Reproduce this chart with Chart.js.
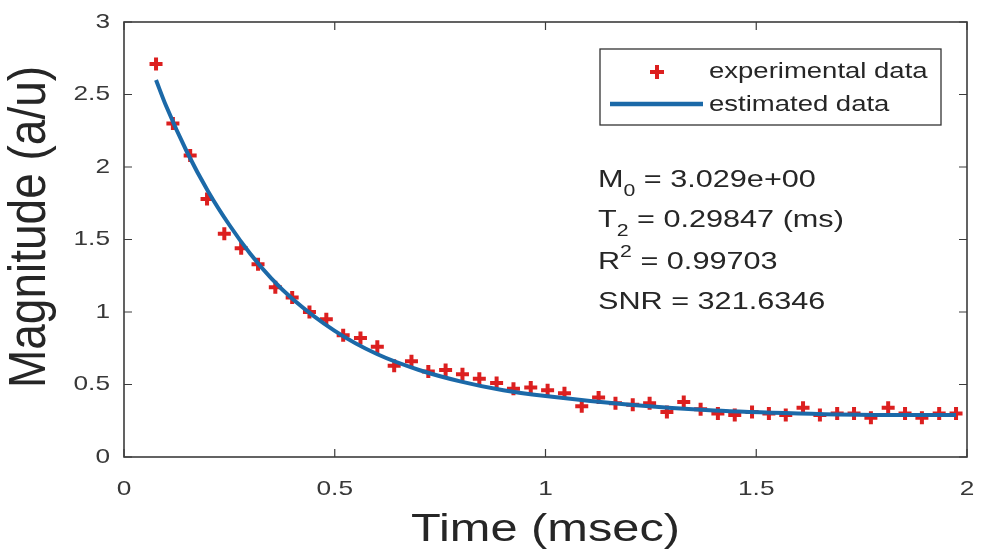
<!DOCTYPE html>
<html>
<head>
<meta charset="utf-8">
<script src="https://cdn.jsdelivr.net/npm/chart.js@4.4.1/dist/chart.umd.min.js"></script>
<style>
  html, body { margin: 0; padding: 0; background: #fff; }
  #wrap { width: 982px; height: 556px; }
</style>
</head>
<body>
<div id="wrap"><canvas id="myChart" width="982" height="556"></canvas></div>
<script>
// experimental samples (ms, a/u)
const expTime = [0.076, 0.116, 0.157, 0.197, 0.238, 0.278, 0.318, 0.359, 0.399, 0.440,
    0.480, 0.520, 0.561, 0.601, 0.641, 0.682, 0.722, 0.763, 0.803, 0.843,
    0.884, 0.924, 0.965, 1.005, 1.045, 1.086, 1.126, 1.166, 1.207, 1.247,
    1.288, 1.328, 1.368, 1.409, 1.449, 1.490, 1.530, 1.570, 1.611, 1.651,
    1.692, 1.732, 1.772, 1.813, 1.853, 1.893, 1.934, 1.974];
const expMag = [2.71, 2.30, 2.08, 1.78, 1.54, 1.44, 1.33, 1.17, 1.10, 1.00,
    0.95, 0.84, 0.82, 0.76, 0.63, 0.66, 0.59, 0.60, 0.57, 0.54,
    0.51, 0.47, 0.48, 0.46, 0.44, 0.35, 0.41, 0.37, 0.36, 0.37,
    0.31, 0.38, 0.33, 0.30, 0.29, 0.31, 0.30, 0.29, 0.34, 0.29,
    0.30, 0.30, 0.27, 0.34, 0.30, 0.27, 0.30, 0.30];

// fitted curve
const fitTime = [0.076, 0.1, 0.15, 0.2, 0.25, 0.3, 0.35, 0.4, 0.5, 0.6,
    0.7, 0.8, 0.9, 1.0, 1.2, 1.4, 1.6, 1.8, 1.974];
const fitMag = [2.60, 2.42, 2.10, 1.83, 1.60, 1.40, 1.23, 1.09, 0.87, 0.71,
    0.60, 0.52, 0.46, 0.42, 0.36, 0.32, 0.30, 0.29, 0.29];

const xTicks = [0, 0.5, 1, 1.5, 2];
const yTicks = [0, 0.5, 1, 1.5, 2, 2.5, 3];

const xTitle = 'Time (msec)';
const yTitle = 'Magnitude (a/u)';
const legendLabels = ['experimental data', 'estimated data'];

const redColor = '#dc1f1f';
const blueColor = '#1b69a8';
const axisColor = '#3c3c3c';
const fontName = '"Liberation Sans", Arial, Helvetica, sans-serif';
const sx = 1.25; // the source picture is stretched sideways

// draw text stretched sideways, returns its drawn width
function stretchText(c, text, x, y, size, align) {
    c.save();
    c.font = size + 'px ' + fontName;
    c.textAlign = align || 'left';
    c.textBaseline = 'middle';
    c.translate(x, y);
    c.scale(sx, 1);
    c.fillText(text, 0, 0);
    const w = c.measureText(text).width * sx;
    c.restore();
    return w;
}

// MATLAB style box, inward ticks, labels, legend and fit text
const boxPlugin = {
    id: 'boxPlugin',
    afterDraw(chart) {
        const { ctx, chartArea: a, scales } = chart;
        ctx.save();
        ctx.strokeStyle = axisColor;
        ctx.lineWidth = 1.6;
        ctx.strokeRect(a.left, a.top, a.right - a.left, a.bottom - a.top);
        ctx.lineWidth = 1.2;
        ctx.beginPath();
        for (const v of xTicks) {
            const px = scales.x.getPixelForValue(v);
            ctx.moveTo(px, a.bottom); ctx.lineTo(px, a.bottom - 8);
            ctx.moveTo(px, a.top); ctx.lineTo(px, a.top + 8);
        }
        for (const v of yTicks) {
            const py = scales.y.getPixelForValue(v);
            ctx.moveTo(a.left, py); ctx.lineTo(a.left + 8, py);
            ctx.moveTo(a.right, py); ctx.lineTo(a.right - 8, py);
        }
        ctx.stroke();

        // tick labels
        ctx.fillStyle = '#383838';
        for (const v of xTicks) {
            stretchText(ctx, String(v), scales.x.getPixelForValue(v), a.bottom + 32, 21, 'center');
        }
        for (const v of yTicks) {
            stretchText(ctx, String(v), a.left - 14, scales.y.getPixelForValue(v), 21, 'right');
        }

        // axis titles
        ctx.fillStyle = '#262626';
        stretchText(ctx, xTitle, (a.left + a.right) / 2, 530, 39, 'center');
        ctx.save();
        ctx.translate(31, 227);
        ctx.rotate(-Math.PI / 2);
        ctx.scale(1, 1.12);
        ctx.font = '46px ' + fontName;
        ctx.textAlign = 'center';
        ctx.textBaseline = 'middle';
        ctx.fillText(yTitle, 0, 0);
        ctx.restore();

        // legend
        ctx.fillStyle = '#fff';
        ctx.fillRect(600, 49, 341, 76);
        ctx.strokeStyle = '#333';
        ctx.lineWidth = 1.3;
        ctx.strokeRect(600, 49, 341, 76);
        ctx.fillStyle = '#262626';
        stretchText(ctx, legendLabels[0], 709, 72, 22);
        stretchText(ctx, legendLabels[1], 709, 105, 22);
        ctx.strokeStyle = redColor;
        ctx.lineWidth = 4;
        ctx.beginPath();
        ctx.moveTo(650, 72); ctx.lineTo(664, 72);
        ctx.moveTo(657, 65); ctx.lineTo(657, 79);
        ctx.stroke();
        ctx.strokeStyle = blueColor;
        ctx.lineWidth = 4.5;
        ctx.beginPath();
        ctx.moveTo(610, 104); ctx.lineTo(703, 104);
        ctx.stroke();

        // fit results
        ctx.fillStyle = '#262626';
        const line = (x, y, parts) => {
            let cx = x;
            for (const p of parts) {
                const size = p.sub || p.sup ? 17 : 24.5;
                const dy = p.sub ? 11 : (p.sup ? -10 : 0);
                cx += stretchText(ctx, p.t, cx, y + dy, size);
            }
        };
        line(598, 180, [{ t: 'M' }, { t: '0', sub: true }, { t: ' = 3.029e+00' }]);
        line(598, 220, [{ t: 'T' }, { t: '2', sub: true }, { t: ' = 0.29847 (ms)' }]);
        line(598, 262, [{ t: 'R' }, { t: '2', sup: true }, { t: ' = 0.99703' }]);
        line(598, 302, [{ t: 'SNR = 321.6346' }]);
        ctx.restore();
    }
};

const ctx = document.getElementById('myChart').getContext('2d');

const chart = new Chart(ctx, {
    type: 'scatter',
    data: {
        datasets: [
            {
                label: legendLabels[0],
                data: expTime.map((t, i) => ({ x: t, y: expMag[i] })),
                pointStyle: 'cross',
                pointRadius: 6.5,
                pointBorderWidth: 4,
                borderColor: redColor,
                backgroundColor: redColor,
                showLine: false,
                order: 2
            },
            {
                label: legendLabels[1],
                data: fitTime.map((t, i) => ({ x: t, y: fitMag[i] })),
                showLine: true,
                borderColor: blueColor,
                borderWidth: 4,
                pointRadius: 0,
                cubicInterpolationMode: 'monotone',
                order: 1
            }
        ]
    },
    options: {
        responsive: false,
        animation: false,
        layout: { padding: { left: 0, top: 22, right: 15, bottom: 0 } },
        scales: {
            x: {
                type: 'linear',
                min: 0,
                max: 2,
                afterBuildTicks: (s) => { s.ticks = xTicks.map(v => ({ value: v })); },
                afterFit: (s) => { s.height = 99; },
                grid: { display: false, drawTicks: false },
                border: { display: false },
                ticks: { display: false }
            },
            y: {
                type: 'linear',
                min: 0,
                max: 3,
                afterBuildTicks: (s) => { s.ticks = yTicks.map(v => ({ value: v })); },
                afterFit: (s) => { s.width = 124; },
                grid: { display: false, drawTicks: false },
                border: { display: false },
                ticks: { display: false }
            }
        },
        plugins: {
            legend: { display: false },
            tooltip: { enabled: false }
        }
    },
    plugins: [boxPlugin]
});
</script>
</body>
</html>
